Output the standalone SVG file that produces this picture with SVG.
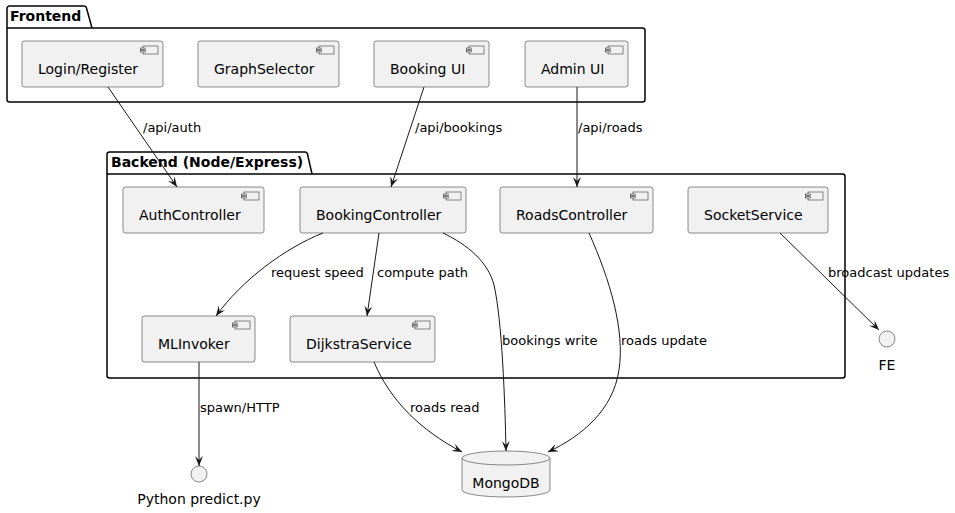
<svg xmlns="http://www.w3.org/2000/svg" width="955" height="513" viewBox="0 0 955 513">
<defs>
<style>
.pkg{fill:none;stroke:#000;stroke-width:1.5}
.comp{fill:#F1F1F1;stroke:#181818;stroke-width:0.5}
.ico{fill:#F1F1F1;stroke:#181818;stroke-width:0.5}
.name{font-family:"DejaVu Sans","Liberation Sans",sans-serif;font-size:14px;fill:#000}
.ptitle{font-family:"DejaVu Sans","Liberation Sans",sans-serif;font-size:14px;font-weight:bold;fill:#000}
.lbl{font-family:"DejaVu Sans","Liberation Sans",sans-serif;font-size:13px;fill:#000}
.edge{fill:none;stroke:#181818;stroke-width:1}
</style>
<marker id="arr" viewBox="0 0 10 8" refX="10" refY="4" markerWidth="10" markerHeight="8" markerUnits="userSpaceOnUse" orient="auto">
<path d="M0,0 L10,4 L0,8 L4,4 Z" fill="#181818"/>
</marker>
<g id="icon">
<rect x="-20" y="5" width="15" height="8" class="ico"/>
<rect x="-22.5" y="7" width="5" height="1.5" class="ico"/>
<rect x="-22.5" y="9.5" width="5" height="1.5" class="ico"/>
</g>
</defs>
<rect width="955" height="513" fill="#fff"/>

<g id="pkg-frontend">
<path class="pkg" d="M9.5,6 L84,6 A2.5,2.5 0 0 1 86.4,7.8 L92,28 L642.5,28 A2.5,2.5 0 0 1 645,30.5 L645,99.5 A2.5,2.5 0 0 1 642.5,102 L9.5,102 A2.5,2.5 0 0 1 7,99.5 L7,8.5 A2.5,2.5 0 0 1 9.5,6 Z M7,28 L92,28"/>
<text class="ptitle" x="10" y="21">Frontend</text>
</g>
<g id="pkg-backend">
<path class="pkg" d="M109.5,152 L305,152 A2.5,2.5 0 0 1 307.4,153.8 L312,174 L842.5,174 A2.5,2.5 0 0 1 845,176.5 L845,375.5 A2.5,2.5 0 0 1 842.5,378 L109.5,378 A2.5,2.5 0 0 1 107,375.5 L107,154.5 A2.5,2.5 0 0 1 109.5,152 Z M107,174 L312,174"/>
<text class="ptitle" x="111" y="167">Backend (Node/Express)</text>
</g>

<g id="login">
<rect class="comp" x="22" y="41" width="141" height="46" rx="2.5"/>
<use href="#icon" x="163" y="41"/>
<text class="name" x="38" y="74">Login/Register</text>
</g>
<g id="graphselector">
<rect class="comp" x="198" y="41" width="141" height="46" rx="2.5"/>
<use href="#icon" x="339" y="41"/>
<text class="name" x="214" y="74">GraphSelector</text>
</g>
<g id="bookingui">
<rect class="comp" x="374" y="41" width="115" height="46" rx="2.5"/>
<use href="#icon" x="489" y="41"/>
<text class="name" x="390" y="74">Booking UI</text>
</g>
<g id="adminui">
<rect class="comp" x="525" y="41" width="103" height="46" rx="2.5"/>
<use href="#icon" x="628" y="41"/>
<text class="name" x="541" y="74">Admin UI</text>
</g>

<g id="authcontroller">
<rect class="comp" x="123" y="187" width="141" height="46" rx="2.5"/>
<use href="#icon" x="264" y="187"/>
<text class="name" x="139" y="220">AuthController</text>
</g>
<g id="bookingcontroller">
<rect class="comp" x="300" y="187" width="166" height="46" rx="2.5"/>
<use href="#icon" x="466" y="187"/>
<text class="name" x="316" y="220">BookingController</text>
</g>
<g id="roadscontroller">
<rect class="comp" x="500" y="187" width="153" height="46" rx="2.5"/>
<use href="#icon" x="653" y="187"/>
<text class="name" x="516" y="220">RoadsController</text>
</g>
<g id="socketservice">
<rect class="comp" x="688" y="187" width="140" height="46" rx="2.5"/>
<use href="#icon" x="828" y="187"/>
<text class="name" x="704" y="220">SocketService</text>
</g>
<g id="mlinvoker">
<rect class="comp" x="142" y="316" width="113" height="46" rx="2.5"/>
<use href="#icon" x="255" y="316"/>
<text class="name" x="158" y="349">MLInvoker</text>
</g>
<g id="dijkstraservice">
<rect class="comp" x="290" y="316" width="145" height="46" rx="2.5"/>
<use href="#icon" x="435" y="316"/>
<text class="name" x="306" y="349">DijkstraService</text>
</g>

<g id="fe">
<circle cx="887" cy="339" r="8" class="comp"/>
<text class="name" x="887" y="370" text-anchor="middle">FE</text>
</g>
<g id="python">
<circle cx="199" cy="474" r="8" class="comp"/>
<text class="name" x="199" y="504" text-anchor="middle">Python predict.py</text>
</g>
<g id="mongodb">
<path class="comp" d="M462,458 A44,7 0 0 1 550,458 L550,490 A44,7 0 0 1 462,490 Z"/>
<path class="comp" fill="none" d="M462,458 A44,7 0 0 0 550,458"/>
<text class="name" x="506" y="488" text-anchor="middle">MongoDB</text>
</g>

<g id="connectors">
<path class="edge" marker-end="url(#arr)" d="M108,87 L177,187"/>
<text class="lbl" x="143" y="132">/api/auth</text>
<path class="edge" marker-end="url(#arr)" d="M424,87 L391,187"/>
<text class="lbl" x="415" y="132">/api/bookings</text>
<path class="edge" marker-end="url(#arr)" d="M577,87 L577,187"/>
<text class="lbl" x="578" y="132">/api/roads</text>
<path class="edge" marker-end="url(#arr)" d="M323,233 C285,248 242,280 216,316"/>
<text class="lbl" x="271" y="277">request speed</text>
<path class="edge" marker-end="url(#arr)" d="M379,233 L367,316"/>
<text class="lbl" x="377" y="277">compute path</text>
<path class="edge" marker-end="url(#arr)" d="M443,233 C468,245 488,262 494,285 C502,320 505,400 506,451"/>
<text class="lbl" x="502" y="345">bookings write</text>
<path class="edge" marker-end="url(#arr)" d="M589,233 C610,280 625,330 619,370 C613,410 582,436 548,452"/>
<text class="lbl" x="621" y="345">roads update</text>
<path class="edge" marker-end="url(#arr)" d="M780,233 L879,330"/>
<text class="lbl" x="828" y="277">broadcast updates</text>
<path class="edge" marker-end="url(#arr)" d="M199,362 L199,466"/>
<text class="lbl" x="200" y="412">spawn/HTTP</text>
<path class="edge" marker-end="url(#arr)" d="M374,362 C390,400 420,430 462,452"/>
<text class="lbl" x="410" y="412">roads read</text>
</g>
</svg>
